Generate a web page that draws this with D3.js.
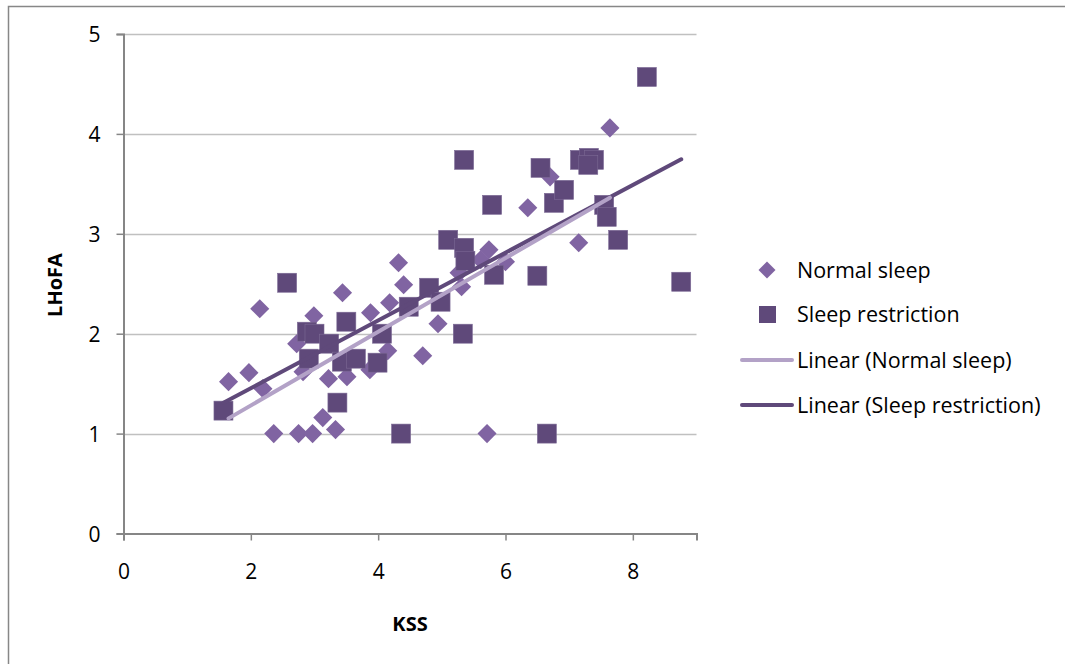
<!DOCTYPE html>
<html>
<head>
<meta charset="utf-8">
<script src="https://cdn.jsdelivr.net/npm/d3@7"></script>
<style>
html,body{margin:0;padding:0;background:#fff;}
svg{display:block;}
text{font-family:"Open Sans",Lato,sans-serif;fill:#000;}
</style>
</head>
<body>
<svg id="chart" width="1065" height="664"></svg>
<script>
// Normal sleep (KSS, LHoFA)
const normalKSS = [1.65,1.97,2.14,2.19,2.36,2.72,2.75,2.82,2.97,2.99,3.13,3.22,3.33,3.44,3.51,3.87,3.88,4.15,4.18,4.32,4.40,4.70,4.94,5.27,5.31,5.61,5.71,5.74,6.00,6.35,6.70,7.15,7.64];
const normalLHoFA = [1.52,1.61,2.25,1.45,1.00,1.90,1.00,1.62,1.00,2.18,1.16,1.55,1.04,2.41,1.57,1.64,2.21,1.83,2.31,2.71,2.49,1.78,2.10,2.61,2.47,2.74,1.00,2.84,2.72,3.26,3.57,2.91,4.06];
// Sleep restriction (KSS, LHoFA)
const restrKSS = [1.57,2.57,2.88,3.00,2.91,3.23,3.50,3.36,3.43,3.65,3.99,4.06,4.36,4.48,4.80,4.98,5.10,5.33,5.35,5.37,5.82,6.50,5.79,5.35,6.55,6.76,6.92,7.17,7.31,7.39,7.30,7.55,7.59,7.77,8.22,8.76,6.65];
const restrLHoFA = [1.23,2.51,2.02,2.00,1.75,1.90,2.12,1.31,1.72,1.75,1.71,2.00,1.00,2.27,2.46,2.32,2.94,2.00,2.86,2.73,2.59,2.58,3.29,3.74,3.66,3.31,3.44,3.74,3.76,3.74,3.69,3.29,3.17,2.94,4.57,2.52,1.00];
const xTicks = [0,2,4,6,8];
const yTicks = [0,1,2,3,4,5];
const seriesNames = ["Normal sleep","Sleep restriction","Linear (Normal sleep)","Linear (Sleep restriction)"];
const xTitle = "KSS";
const yTitle = "LHoFA";

const C_NORMAL = "#8064A2", C_RESTR = "#5F497A", C_NTREND = "#B3A2C7", C_RTREND = "#5F497A";

const svg = d3.select("#chart");
// outer chart border
svg.append("rect").attr("x",8.5).attr("y",6.5).attr("width",1100).attr("height",700)
  .attr("fill","none").attr("stroke","#878787").attr("stroke-width",1.5);

const x = d3.scaleLinear().domain([0,9]).range([123.5,696.5]);
const y = d3.scaleLinear().domain([0,5]).range([533.5,34]);

// gridlines
svg.append("g").selectAll("line").data(yTicks.filter(d=>d>0)).join("line")
  .attr("x1",x(0)).attr("x2",x(9)).attr("y1",d=>Math.round(y(d))+0.5).attr("y2",d=>Math.round(y(d))+0.5)
  .attr("stroke","#C0C0C0").attr("stroke-width",1.3);

// axes
const xAxis = svg.append("g").attr("transform",`translate(0,${y(0)})`)
  .call(d3.axisBottom(x).tickValues(xTicks).tickSize(7).tickPadding(24).tickFormat(d3.format("d")));
const yAxis = svg.append("g").attr("transform",`translate(${x(0)},0)`)
  .call(d3.axisLeft(y).tickValues(yTicks).tickSize(7).tickPadding(16).tickFormat(d3.format("d")));
[xAxis,yAxis].forEach(g=>{
  g.select(".domain").attr("stroke","#868686").attr("stroke-width",2);
  g.selectAll(".tick line").attr("stroke","#868686").attr("stroke-width",1.5);
  g.selectAll(".tick text").style("font-size","21px").attr("fill","#000");
});
yAxis.selectAll(".tick text").attr("dy","0.36em");

// axis titles
svg.append("text").attr("x",410).attr("y",631).attr("text-anchor","middle")
  .style("font-size","20px").style("font-weight","bold").text(xTitle);
svg.append("text").attr("transform","translate(62,285) rotate(-90)").attr("text-anchor","middle")
  .style("font-size","20px").style("font-weight","bold").text(yTitle);

const normal = normalKSS.map((v,i)=>({x:v,y:normalLHoFA[i]}));
const restr = restrKSS.map((v,i)=>({x:v,y:restrLHoFA[i]}));

// markers
const diamond = d3.symbol().type(d3.symbolSquare).size(13.5*13.5);
svg.append("g").selectAll("path").data(normal).join("path")
  .attr("d",diamond).attr("transform",d=>`translate(${x(d.x)},${y(d.y)}) rotate(45)`)
  .attr("fill",C_NORMAL);
svg.append("g").selectAll("rect").data(restr).join("rect")
  .attr("x",d=>x(d.x)-9.5).attr("y",d=>y(d.y)-9.5).attr("width",19).attr("height",19)
  .attr("fill",C_RESTR).attr("stroke","#7c6a95").attr("stroke-width",0.6);

// linear trendlines (least squares)
function fit(pts){
  const mx=d3.mean(pts,p=>p.x), my=d3.mean(pts,p=>p.y);
  const sxy=d3.sum(pts,p=>(p.x-mx)*(p.y-my)), sxx=d3.sum(pts,p=>(p.x-mx)**2);
  const b=sxy/sxx, a=my-b*mx;
  const x0=d3.min(pts,p=>p.x), x1=d3.max(pts,p=>p.x);
  return [{x:x0,y:a+b*x0},{x:x1,y:a+b*x1}];
}
const line = d3.line().x(d=>x(d.x)).y(d=>y(d.y));
svg.append("path").datum(fit(restr)).attr("d",line).attr("fill","none")
  .attr("stroke",C_RTREND).attr("stroke-width",4).attr("stroke-linecap","round");
svg.append("path").datum(fit(normal)).attr("d",line).attr("fill","none")
  .attr("stroke",C_NTREND).attr("stroke-width",4).attr("stroke-linecap","round");

// legend
const lg = svg.append("g");
const ly = [270,314.5,360,405];
lg.append("path").attr("d",d3.symbol().type(d3.symbolSquare).size(12*12))
  .attr("transform",`translate(767,${ly[0]}) rotate(45)`).attr("fill",C_NORMAL);
lg.append("rect").attr("x",759).attr("y",ly[1]-8.5).attr("width",17).attr("height",17).attr("fill",C_RESTR);
lg.append("line").attr("x1",742).attr("x2",792).attr("y1",ly[2]).attr("y2",ly[2])
  .attr("stroke",C_NTREND).attr("stroke-width",4).attr("stroke-linecap","round");
lg.append("line").attr("x1",742).attr("x2",792).attr("y1",ly[3]).attr("y2",ly[3])
  .attr("stroke",C_RTREND).attr("stroke-width",4).attr("stroke-linecap","round");
lg.selectAll("text").data(seriesNames).join("text")
  .attr("x",797).attr("y",(d,i)=>ly[i]).attr("dy","0.35em")
  .style("font-size","21.5px").text(d=>d);
</script>
</body>
</html>
